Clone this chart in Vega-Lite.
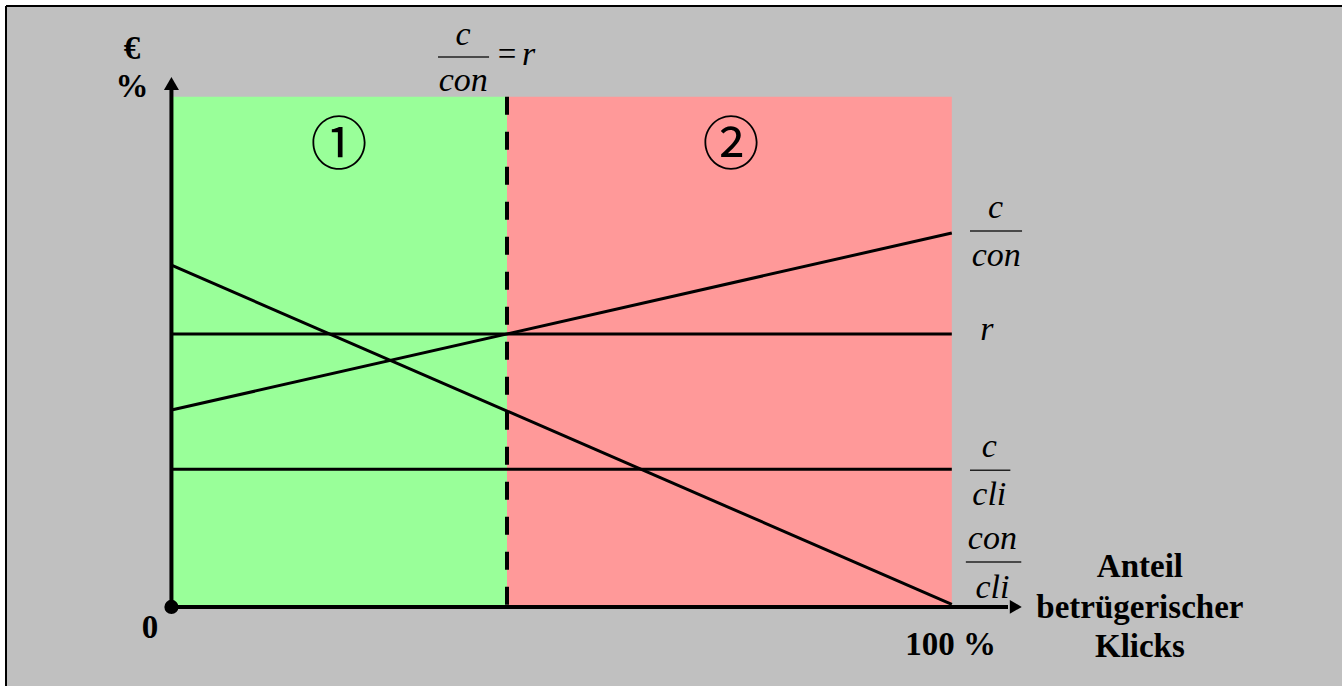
{
  "$schema": "https://vega.github.io/schema/vega-lite/v6.json",
  "width": 1336,
  "height": 680,
  "autosize": {"type": "none"},
  "padding": {"left": 6, "top": 6, "right": 0, "bottom": 0},
  "background": "white",
  "config": {"view": {"fill": "#c0c0c0", "stroke": null}},
  "encoding": {
    "x": {"field": "x", "type": "quantitative", "scale": {"domain": [-21.2, 150], "nice": false, "zero": false}, "axis": null},
    "y": {"field": "y", "type": "quantitative", "scale": {"domain": [-15.5, 117.8], "nice": false, "zero": false}, "axis": null}
  },
  "layer": [
    {
      "data": {"values": [
        {"region": "1", "x": 0, "x2": 43, "y": 0, "y2": 100},
        {"region": "2", "x": 43, "x2": 100, "y": 0, "y2": 100}
      ]},
      "mark": {"type": "rect", "strokeWidth": 0},
      "encoding": {
        "x2": {"field": "x2"},
        "y2": {"field": "y2"},
        "color": {"field": "region", "type": "nominal", "scale": {"domain": ["1", "2"], "range": ["#99ff99", "#ff9999"]}, "legend": null}
      }
    },
    {
      "data": {"values": [
        {"x": -21.2, "y": 117.8, "x2": 150, "y2": 117.8},
        {"x": -21.2, "y": -15.5, "x2": -21.2, "y2": 117.8}
      ]},
      "mark": {"type": "rule", "strokeWidth": 2, "color": "black"},
      "encoding": {"x2": {"field": "x2"}, "y2": {"field": "y2"}}
    },
    {
      "data": {"values": [
        {"series": "c/con", "x": 0, "y": 38.6},
        {"series": "c/con", "x": 100, "y": 73.3},
        {"series": "r", "x": 0, "y": 53.5},
        {"series": "r", "x": 100, "y": 53.5},
        {"series": "c/cli", "x": 0, "y": 27.0},
        {"series": "c/cli", "x": 100, "y": 27.0},
        {"series": "con/cli", "x": 0, "y": 67.0},
        {"series": "con/cli", "x": 100, "y": 0.5}
      ]},
      "mark": {"type": "line", "color": "black", "strokeWidth": 3},
      "encoding": {"detail": {"field": "series"}}
    },
    {
      "data": {"values": [{"x": 43, "y": 100, "y2": -2.6}]},
      "mark": {"type": "rule", "strokeDash": [18, 17], "strokeWidth": 4, "color": "black"},
      "encoding": {"y2": {"field": "y2"}}
    },
    {
      "data": {"values": [
        {"axis": "y", "x": 0, "y": 0, "x2": 0, "y2": 102},
        {"axis": "x", "x": 0, "y": 0, "x2": 107.2, "y2": 0}
      ]},
      "mark": {"type": "rule", "strokeWidth": 4, "color": "black"},
      "encoding": {"x2": {"field": "x2"}, "y2": {"field": "y2"}}
    },
    {
      "data": {"values": [{"x": 0, "y": 102.6}]},
      "mark": {"type": "point", "shape": "triangle-up", "filled": true, "color": "black", "size": 225, "opacity": 1}
    },
    {
      "data": {"values": [{"x": 108.2, "y": 0}]},
      "mark": {"type": "point", "shape": "triangle-right", "filled": true, "color": "black", "size": 190, "opacity": 1}
    },
    {
      "data": {"values": [{"x": 0, "y": 0}]},
      "mark": {"type": "circle", "color": "black", "size": 200, "opacity": 1}
    },
    {
      "data": {"values": [
        {"x": 34.16, "x2": 40.7, "y": 107.8},
        {"x": 102.33, "x2": 109.0, "y": 73.7},
        {"x": 102.33, "x2": 107.5, "y": 26.8},
        {"x": 101.8, "x2": 108.9, "y": 8.8}
      ]},
      "mark": {"type": "rule", "strokeWidth": 1.5, "color": "#222222"},
      "encoding": {"x2": {"field": "x2"}}
    },
    {
      "data": {"values": [
        {"label": "c", "x": 37.37, "y": 110.15},
        {"label": "con", "x": 37.4, "y": 101.1},
        {"label": "r", "x": 45.76, "y": 106.2},
        {"label": "c", "x": 105.6, "y": 76.2},
        {"label": "con", "x": 105.7, "y": 66.8},
        {"label": "r", "x": 104.5, "y": 52.3},
        {"label": "c", "x": 104.8, "y": 29.4},
        {"label": "cli", "x": 104.8, "y": 20.0},
        {"label": "con", "x": 105.2, "y": 11.35},
        {"label": "cli", "x": 105.2, "y": 1.74}
      ]},
      "mark": {"type": "text", "font": "Liberation Serif", "fontStyle": "italic", "fontSize": 34, "align": "center", "baseline": "alphabetic", "color": "black"},
      "encoding": {"text": {"field": "label"}}
    },
    {
      "data": {"values": [{"label": "=", "x": 43.0, "y": 106.2}]},
      "mark": {"type": "text", "font": "Liberation Serif", "fontSize": 33, "align": "center", "baseline": "alphabetic", "color": "black"},
      "encoding": {"text": {"field": "label"}}
    },
    {
      "data": {"values": [
        {"label": "€", "x": -5.05, "y": 107.5},
        {"label": "%", "x": -5.05, "y": 100.0},
        {"label": "0", "x": -2.74, "y": -6.1},
        {"label": "100 %", "x": 99.86, "y": -9.4},
        {"label": "Anteil", "x": 124.1, "y": 5.92},
        {"label": "betrügerischer", "x": 124.1, "y": -2.23},
        {"label": "Klicks", "x": 124.1, "y": -9.76}
      ]},
      "mark": {"type": "text", "font": "Liberation Serif", "fontWeight": "bold", "fontSize": 33, "align": "center", "baseline": "alphabetic", "color": "black"},
      "encoding": {"text": {"field": "label"}}
    },
    {
      "data": {"values": [
        {"label": "①", "x": 21.48, "y": 90.15},
        {"label": "②", "x": 71.7, "y": 90.15}
      ]},
      "mark": {"type": "text", "font": "DejaVu Serif, Noto Sans CJK JP", "fontSize": 57, "align": "center", "baseline": "middle", "color": "black"},
      "encoding": {"text": {"field": "label"}}
    }
  ]
}
